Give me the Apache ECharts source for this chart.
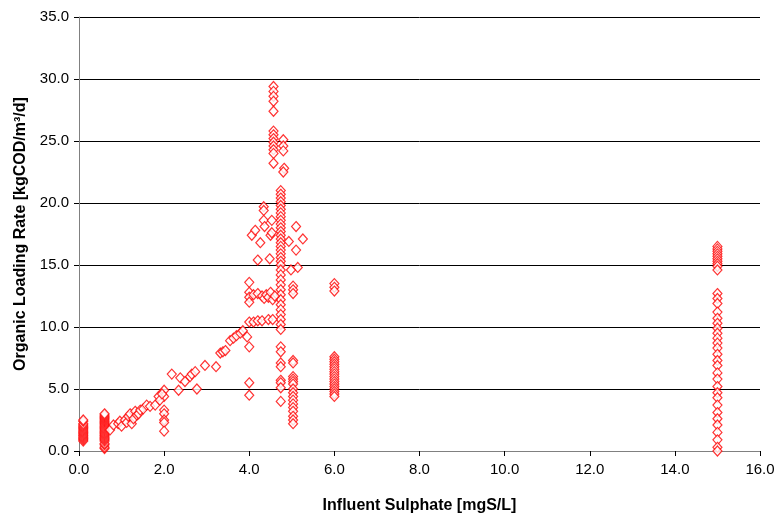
<!DOCTYPE html>
<html>
<head>
<meta charset="utf-8">
<script src="https://cdn.jsdelivr.net/npm/echarts@6/dist/echarts.min.js"></script>
<style>
  html, body { margin: 0; padding: 0; background: #fff; }
  #chart { width: 778px; height: 521px; }
</style>
</head>
<body>
<div id="chart"></div>
<script>
// vertical columns of measurements (same sulphate value)
const colX = [0.1, 0.6, 2.0, 4.0, 4.57, 4.74, 5.03, 6.0, 15.0];
const colY = [
  [0.8, 0.9, 1.0, 1.1, 1.2, 1.3, 1.4, 1.5, 1.6, 1.7, 1.8, 1.9, 2.0, 2.1, 2.2, 2.4, 2.5],
  [0.2, 0.3, 0.5, 0.6, 0.8, 0.9, 1.0, 1.1, 1.2, 1.3, 1.4, 1.5, 1.6, 1.7, 1.8, 1.9, 2.0, 2.1, 2.2, 2.3, 2.4, 2.5, 2.6, 2.7, 2.8, 2.9, 3.0],
  [4.9, 4.4, 3.3, 3.0, 2.5, 2.3, 1.6],
  [13.6, 12.8, 12.4, 12.0, 10.4, 8.4, 5.5, 4.5],
  [29.4, 29.0, 28.6, 28.2, 27.4, 25.8, 25.5, 25.2, 24.9, 24.6, 24.3, 24.0, 23.2],
  [21.0, 20.7, 20.4, 20.1, 19.8, 19.5, 19.2, 18.9, 18.6, 18.3, 18.0, 17.7, 17.4, 17.1, 16.8, 16.5, 16.2, 15.9, 15.6, 15.3, 15.0,
   14.6, 14.2, 13.8, 13.4, 13.0, 12.6, 12.2, 11.8, 11.4, 11.0, 10.6, 10.2, 9.8, 8.4, 8.0, 7.1, 6.8, 5.7, 5.5, 5.1, 4.0],
  [13.3, 13.0, 12.7, 7.3, 7.1, 6.0, 5.8, 5.6, 5.4, 5.0, 4.7, 4.4, 4.1, 3.8, 3.5, 3.2, 2.8, 2.5, 2.2],
  [13.5, 13.2, 12.9, 7.6, 7.4, 7.2, 7.0, 6.8, 6.6, 6.4, 6.2, 6.0, 5.8, 5.6, 5.4, 5.2, 5.0, 4.8, 4.6, 4.4],
  [16.5, 16.3, 16.1, 15.9, 15.7, 15.5, 15.3, 15.1, 14.9, 14.6, 12.7, 12.3, 11.9, 11.2, 10.7, 10.3, 9.9, 9.5, 9.1, 8.7,
   8.3, 7.8, 7.3, 6.9, 6.3, 5.8, 5.2, 4.7, 4.3, 3.7, 3.1, 2.6, 2.1, 1.5, 0.9, 0.3, 0.0]
];

// scattered single points
const looseX = [0.73, 0.81, 0.92, 0.96, 1.0, 1.08, 1.12, 1.16, 1.2, 1.24, 1.28, 1.32, 1.36, 1.4, 1.44, 1.51, 1.59, 1.67, 1.79, 1.87, 1.9, 1.95,
  2.18, 2.38, 2.34, 2.49, 2.61, 2.65, 2.73, 2.77, 2.96, 3.22, 3.32, 3.38, 3.44, 3.55, 3.63, 3.7, 3.79, 3.85, 3.95,
  4.1, 4.2, 4.3, 4.45, 4.55,
  4.1, 4.2, 4.3, 4.35, 4.4, 4.45, 4.5, 4.55, 4.6,
  4.06, 4.14, 4.2, 4.26, 4.34, 4.34, 4.34, 4.36, 4.48, 4.5, 4.53, 4.53, 4.93, 5.1, 5.26, 5.1, 5.14, 4.98,
  4.8, 4.8, 4.8, 4.82, 4.8];
const looseY = [1.7, 2.1, 2.2, 2.4, 2.0, 2.5, 2.3, 2.8, 3.0, 2.2, 2.6, 3.2, 2.9, 3.0, 3.3, 3.4, 3.7, 3.6, 3.7, 4.4, 4.1, 4.6,
  6.2, 5.9, 4.9, 5.6, 6.0, 6.2, 6.4, 5.0, 6.9, 6.8, 7.9, 8.0, 8.1, 8.9, 9.1, 9.3, 9.5, 9.7, 9.2,
  10.4, 10.5, 10.5, 10.6, 10.6,
  12.6, 12.7, 12.5, 12.3, 12.6, 12.4, 12.8, 12.2, 12.5,
  17.4, 17.8, 15.4, 16.8, 19.7, 19.4, 18.6, 18.1, 15.5, 17.4, 18.6, 17.6, 16.9, 18.1, 17.1, 16.2, 14.8, 14.6,
  25.1, 24.6, 24.2, 22.8, 22.5];

const points = [];
colX.forEach((x, i) => colY[i].forEach(y => points.push([x, y])));
looseX.forEach((x, i) => points.push([x, looseY[i]]));

const font = 'Liberation Sans, Arial, sans-serif';
const chart = echarts.init(document.getElementById('chart'));
chart.setOption({
  animation: false,
  grid: { left: 79, right: 18, top: 17, bottom: 70 },
  xAxis: {
    type: 'value',
    min: 0, max: 16, interval: 2,
    name: 'Influent Sulphate [mgS/L]',
    nameLocation: 'middle',
    nameGap: 47,
    nameTextStyle: { fontFamily: font, fontSize: 16, fontWeight: 'bold', color: '#000' },
    axisLine: { lineStyle: { color: '#808080' } },
    axisTick: { show: true, inside: false, length: 5, lineStyle: { color: '#000' } },
    axisLabel: { formatter: v => v.toFixed(1), fontFamily: font, fontSize: 15, color: '#000', margin: 11 },
    splitLine: { show: false }
  },
  yAxis: {
    type: 'value',
    min: 0, max: 35, interval: 5,
    name: 'Organic Loading Rate [kgCOD/m³/d]',
    nameLocation: 'middle',
    nameGap: 50,
    nameTextStyle: { fontFamily: font, fontSize: 16, fontWeight: 'bold', color: '#000' },
    axisLine: { show: true, lineStyle: { color: '#808080' } },
    axisTick: { show: true, inside: false, length: 5, lineStyle: { color: '#000' } },
    axisLabel: { formatter: v => v.toFixed(1), fontFamily: font, fontSize: 15, color: '#000', margin: 10 },
    splitLine: { show: true, lineStyle: { color: '#000', width: 1 } }
  },
  series: [{
    type: 'scatter',
    data: points,
    symbol: 'diamond',
    symbolSize: [9, 10],
    itemStyle: { color: '#fff', borderColor: '#ff0000', borderWidth: 1.2 }
  }]
});
</script>
</body>
</html>
